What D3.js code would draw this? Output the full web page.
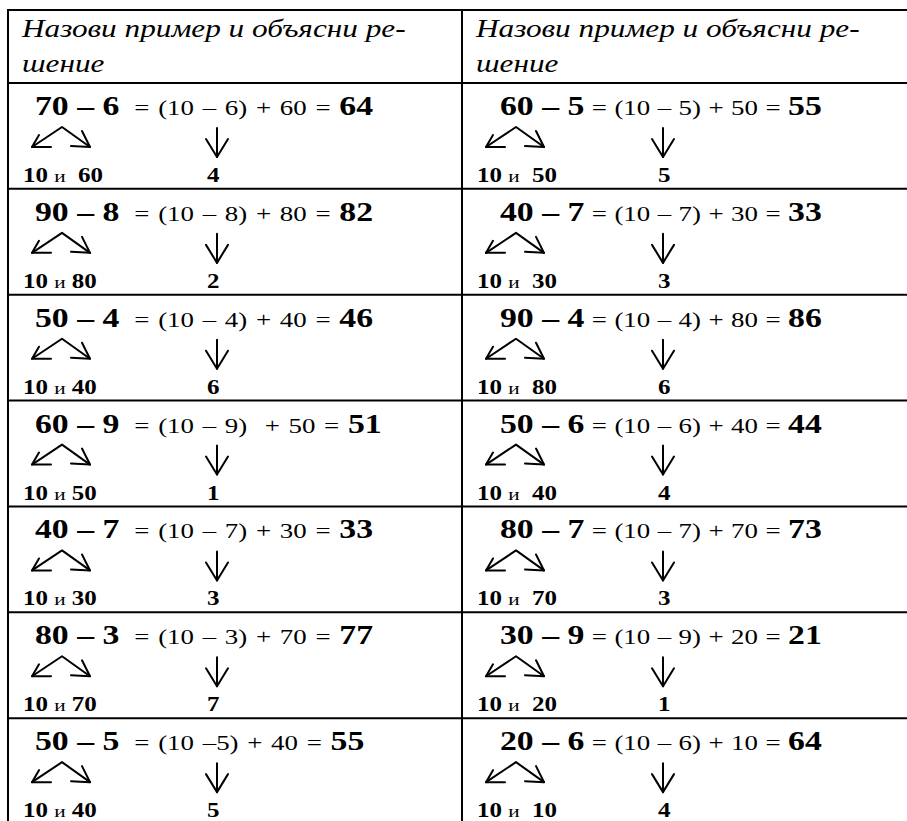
<!DOCTYPE html>
<html>
<head>
<meta charset="utf-8">
<script src="https://d3js.org/d3.v7.min.js"></script>
<style>
body { margin: 0; background: #fff; }
svg { display: block; }
text { font-family: 'Liberation Serif', 'Times New Roman', serif; fill: #000; white-space: pre; }
.grid line { stroke: #000; stroke-width: 2; }
.arrow { fill: none; stroke: #000; stroke-width: 2; stroke-linecap: round; stroke-linejoin: round; }
</style>
</head>
<body>
<div id="table"></div>
<script>
var width = 907, height = 821;

var header = ["Назови пример и объясни ре-", "шение"];

// left column
var leftMinuend = [70, 90, 50, 60, 40, 80, 50];
var leftSubtrahend = [6, 8, 4, 9, 7, 3, 5];
var leftMiddle = ["(10 – 6) + 60", "(10 – 8) + 80", "(10 – 4) + 40", "(10 – 9)  + 50", "(10 – 7) + 30", "(10 – 3) + 70", "(10 –5) + 40"];
var leftResult = [64, 82, 46, 51, 33, 77, 55];
var leftSplit = ["10 и  60", "10 и 80", "10 и 40", "10 и 50", "10 и 30", "10 и 70", "10 и 40"];
var leftDiff = [4, 2, 6, 1, 3, 7, 5];

// right column
var rightMinuend = [60, 40, 90, 50, 80, 30, 20];
var rightSubtrahend = [5, 7, 4, 6, 7, 9, 6];
var rightMiddle = ["(10 – 5) + 50", "(10 – 7) + 30", "(10 – 4) + 80", "(10 – 6) + 40", "(10 – 7) + 70", "(10 – 9) + 20", "(10 – 6) + 10"];
var rightResult = [55, 33, 86, 44, 73, 21, 64];
var rightSplit = ["10 и  50", "10 и  30", "10 и  80", "10 и  40", "10 и  70", "10 и  20", "10 и  10"];
var rightDiff = [5, 3, 6, 4, 3, 1, 4];

var columns = [
  {minuend: leftMinuend, sub: leftSubtrahend, middle: leftMiddle, result: leftResult, split: leftSplit, diff: leftDiff},
  {minuend: rightMinuend, sub: rightSubtrahend, middle: rightMiddle, result: rightResult, split: rightSplit, diff: rightDiff}
];

var sx = 1.25;          // the scan is stretched sideways
var eqIndent = [27, 38];
var eqGap = [5, 0];
var eqSpace = ["1.6px", "0.6px"];

var svg = d3.select("#table").append("svg")
  .attr("width", width).attr("height", height);
svg.append("rect").attr("width", width).attr("height", height).attr("fill", "#fff");

var x = d3.scaleBand().domain([0, 1]).range([8, 916]);
var y = d3.scaleLinear().domain([0, 7]).range([83, 824]);
var tableTop = 10;

function place(sel, px, py) {
  return sel.attr("transform", "translate(" + px + "," + py + ") scale(" + sx + ",1)");
}

// header
columns.forEach(function (col, c) {
  header.forEach(function (line, i) {
    place(svg.append("text"), x(c) + 14, tableTop + 27 + i * 35)
      .attr("font-style", "italic").attr("font-size", 25)
      .text(line);
  });
});

// cells
columns.forEach(function (col, c) {
  d3.range(7).forEach(function (i) {
    var x0 = x(c), y0 = y(i);

    var eq = place(svg.append("text"), x0 + eqIndent[c], y0 + 32);
    eq.append("tspan").attr("font-weight", "bold").attr("font-size", 27)
      .text(col.minuend[i] + " – " + col.sub[i]);
    eq.append("tspan").attr("font-size", 21.5).attr("dx", eqGap[c])
      .style("word-spacing", eqSpace[c])
      .text(" = " + col.middle[i] + " = ");
    eq.append("tspan").attr("font-weight", "bold").attr("font-size", 27)
      .text(col.result[i]);

    // split arrows
    var peak = [x0 + 54, y0 + 44], tl = [x0 + 24, y0 + 64], tr = [x0 + 82, y0 + 64];
    svg.append("path").attr("class", "arrow")
      .attr("d", d3.line()([tl, peak, tr]));
    svg.append("path").attr("class", "arrow")
      .attr("d", d3.line()([[tl[0] + 19, tl[1]], tl, [tl[0] + 7, tl[1] - 12]]));
    svg.append("path").attr("class", "arrow")
      .attr("d", d3.line()([[tr[0] - 19, tr[1] - 1], tr, [tr[0] - 8, tr[1] - 16]]));

    // down arrow
    var ax = x0 + (c === 0 ? 209 : 201);
    svg.append("path").attr("class", "arrow")
      .attr("d", d3.line()([[ax, y0 + 45], [ax, y0 + 74]]));
    svg.append("path").attr("class", "arrow")
      .attr("d", d3.line()([[ax - 11, y0 + 56], [ax, y0 + 74], [ax + 11, y0 + 56]]));

    // bottom line
    var parts = col.split[i].split("и");
    var bt = place(svg.append("text"), x0 + 15, y0 + 99);
    bt.append("tspan").attr("font-weight", "bold").attr("font-size", 20).text(parts[0]);
    bt.append("tspan").attr("font-size", 17).text("и");
    bt.append("tspan").attr("font-weight", "bold").attr("font-size", 20).text(parts[1]);

    place(svg.append("text"), x0 + (c === 0 ? 199 : 196), y0 + 99)
      .attr("font-weight", "bold").attr("font-size", 20)
      .text(col.diff[i]);
  });
});

// grid
var grid = svg.append("g").attr("class", "grid");
grid.append("line").attr("x1", 7).attr("x2", width).attr("y1", tableTop).attr("y2", tableTop);
d3.range(8).forEach(function (i) {
  grid.append("line").attr("x1", 7).attr("x2", width).attr("y1", y(i)).attr("y2", y(i));
});
[0, 1].forEach(function (c) {
  grid.append("line").attr("x1", x(c)).attr("x2", x(c)).attr("y1", tableTop - 1).attr("y2", height);
});
</script>
</body>
</html>
